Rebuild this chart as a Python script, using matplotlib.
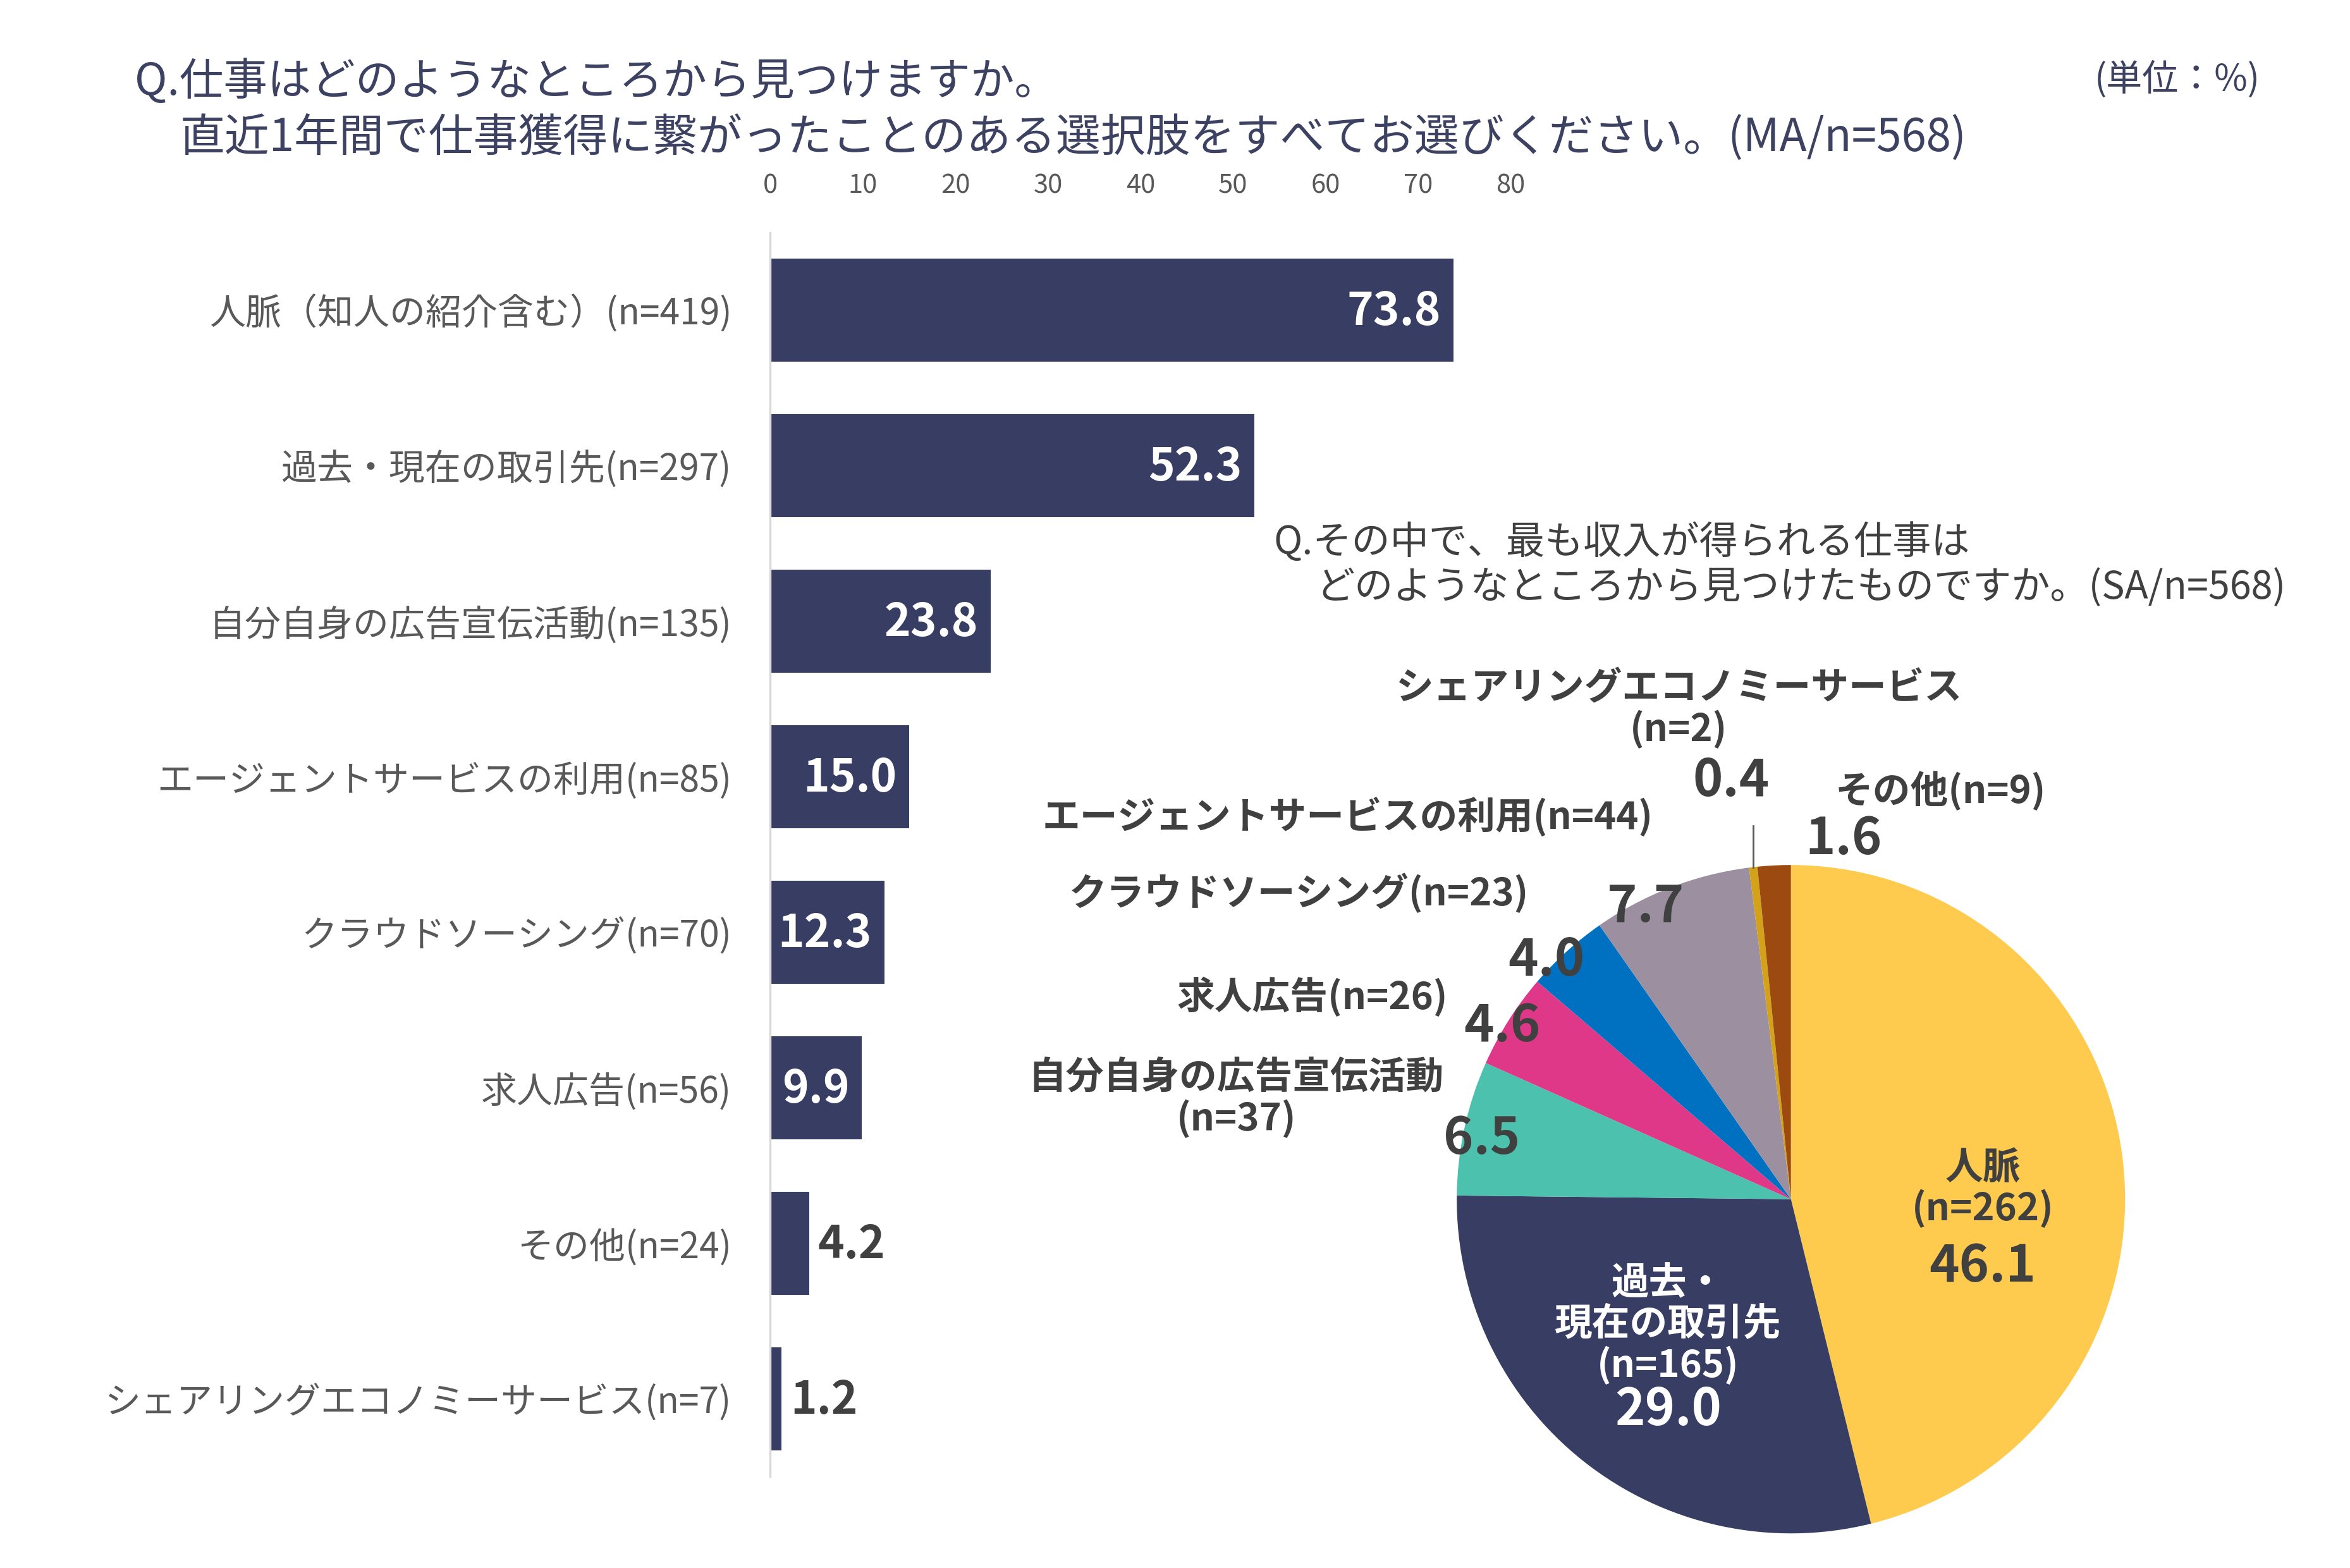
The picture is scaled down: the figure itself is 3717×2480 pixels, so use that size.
import matplotlib
matplotlib.use('Agg')
import matplotlib.pyplot as plt
import numpy as np

plt.rcParams['font.family'] = ['Noto Sans CJK JP', 'DejaVu Sans']

# ---------------- data ----------------
bar_categories = ['人脈（知人の紹介含む）(n=419)', '過去・現在の取引先(n=297)',
                  '自分自身の広告宣伝活動(n=135)', 'エージェントサービスの利用(n=85)',
                  'クラウドソーシング(n=70)', '求人広告(n=56)', 'その他(n=24)',
                  'シェアリングエコノミーサービス(n=7)']
bar_values = [73.8, 52.3, 23.8, 15.0, 12.3, 9.9, 4.2, 1.2]
x_ticks = [0, 10, 20, 30, 40, 50, 60, 70, 80]

pie_labels = ['人脈\n(n=262)', '過去・\n現在の取引先\n(n=165)', '自分自身の広告宣伝活動\n(n=37)',
              '求人広告(n=26)', 'クラウドソーシング(n=23)', 'エージェントサービスの利用(n=44)',
              'シェアリングエコノミーサービス\n(n=2)', 'その他(n=9)']
pie_values = [46.1, 29.0, 6.5, 4.6, 4.0, 7.7, 0.4, 1.6]
pie_colors = ['#FECB4E', '#373D63', '#4BC1AE', '#E03888', '#0071C1', '#9C8F9F', '#D4A21A', '#9C4A10']

title1 = 'Q.仕事はどのようなところから見つけますか。'
title2 = '直近1年間で仕事獲得に繋がったことのある選択肢をすべてお選びください。(MA/n=568)'
sub1 = 'Q.その中で、最も収入が得られる仕事は'
sub2 = 'どのようなところから見つけたものですか。(SA/n=568)'
unit = '(単位：%)'

BAR_COLOR = '#373D63'
TEXT_DARK = '#404040'
TITLE_COLOR = '#3E4262'

fig = plt.figure(figsize=(37.17, 24.80), dpi=100)

# ---------------- bar chart ----------------
ax = fig.add_axes([0.3278, 0.0583, 0.3151, 0.7935])
y = np.arange(len(bar_values))
ax.barh(y, bar_values, height=0.66, color=BAR_COLOR)
ax.set_xlim(0, 80)
ax.set_ylim(len(bar_values) - 0.5, -0.5)
ax.set_yticks(y)
ax.set_yticklabels(bar_categories, fontsize=41, color='#595959')
ax.set_xticks(x_ticks)
ax.set_xticklabels([str(t) for t in x_ticks], fontsize=30, color='#595959')
ax.xaxis.tick_top()
ax.tick_params(axis='x', length=0, pad=38)
ax.tick_params(axis='y', length=0, pad=44)
for s in ['top', 'right', 'bottom']:
    ax.spines[s].set_visible(False)
ax.spines['left'].set_color('#D9D9D9')
ax.spines['left'].set_linewidth(2.5)

for yi, v in zip(y, bar_values):
    if v > 5:
        ax.annotate(f'{v:.1f}', (v, yi), xytext=(-14, -2), textcoords='offset points',
                    ha='right', va='center', fontsize=51, fontweight='bold', color='white')
    else:
        ax.annotate(f'{v:.1f}', (v, yi), xytext=(10, -2), textcoords='offset points',
                    ha='left', va='center', fontsize=51, fontweight='bold', color=TEXT_DARK)

# ---------------- pie chart ----------------
ax2 = fig.add_axes([0.6199, 0.0220, 0.2844, 0.4264])
ax2.pie(pie_values, colors=pie_colors, startangle=90, counterclock=False, radius=1,
        wedgeprops=dict(linewidth=0))
ax2.set_xlim(-1, 1)
ax2.set_ylim(-1, 1)
ax2.axis('off')

# label positions (in units of pie radius)
label_pos = [(0.574, 0.031, 'center'), (-0.368, -0.377, 'center'),
             (-1.66, 0.300, 'center'), (-1.027, 0.605, 'right'),
             (-0.785, 0.915, 'right'), (-0.413, 1.143, 'right'),
             (-0.336, 1.466, 'center'), (0.448, 1.220, 'center')]
value_pos = [(0.574, -0.202), (-0.368, -0.632), (-0.925, 0.180), (-0.865, 0.516),
             (-0.731, 0.713), (-0.435, 0.874), (-0.179, 1.251), (0.157, 1.076)]

for i, (lab, v) in enumerate(zip(pie_labels, pie_values)):
    lx, ly, ha = label_pos[i]
    lab_color = TEXT_DARK if i != 1 else 'white'
    ax2.text(lx, ly, lab, ha=ha, va='center', fontsize=43, fontweight='bold',
             color=lab_color, linespacing=1.1)
    vx, vy = value_pos[i]
    val_color = 'white' if i == 1 else TEXT_DARK
    ax2.text(vx, vy, f'{v:.1f}', ha='center', va='center', fontsize=58,
             fontweight='bold', color=val_color)

# leader line for the tiny slice (シェアリング)
total = sum(pie_values)
cum = sum(pie_values[:6]) + pie_values[6] / 2
ang = np.deg2rad(90 - 360 * cum / total)
px, py = np.cos(ang), np.sin(ang)
ax2.plot([px, px], [py, 1.117], color='#595959', lw=2, clip_on=False)

# ---------------- texts ----------------
fig.text(0.0574, 0.9474, title1, fontsize=50, color=TITLE_COLOR, va='center', ha='left')
fig.text(0.0765, 0.9120, title2, fontsize=51, color=TITLE_COLOR, va='center', ha='left')
fig.text(0.9617, 0.9493, unit, fontsize=41, color=TITLE_COLOR, va='center', ha='right')
fig.text(0.5421, 0.6539, sub1, fontsize=44, color='#404040', va='center', ha='left')
fig.text(0.5600, 0.6252, sub2, fontsize=44, color='#404040', va='center', ha='left')

fig.savefig('out.png', dpi=100, facecolor='white')
